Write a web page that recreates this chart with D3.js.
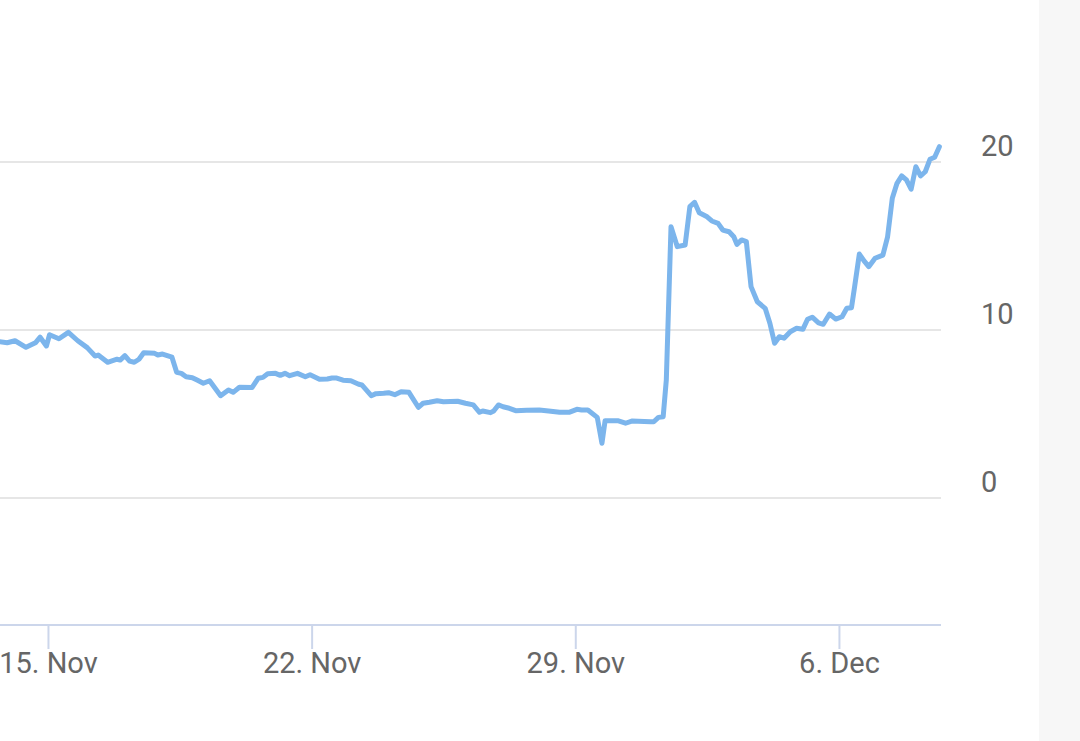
<!DOCTYPE html>
<html>
<head>
<meta charset="utf-8">
<script src="https://cdn.jsdelivr.net/npm/d3@7"></script>
<style>
  html, body { margin: 0; padding: 0; background: #fff; }
  svg { display: block; }
</style>
</head>
<body>
<svg id="chart" width="1080" height="741"></svg>
<script>
// sampled readings, local time
var times = [
  '2021-11-13 17:00', '2021-11-13 22:00', '2021-11-14 03:00', '2021-11-14 10:00', '2021-11-14 16:00',
  '2021-11-14 19:00', '2021-11-14 23:00', '2021-11-15 01:00', '2021-11-15 07:00', '2021-11-15 13:00',
  '2021-11-15 19:00', '2021-11-16 01:00', '2021-11-16 06:00', '2021-11-16 08:00', '2021-11-16 14:00',
  '2021-11-16 20:00', '2021-11-16 22:00', '2021-11-17 01:00', '2021-11-17 04:00', '2021-11-17 07:00',
  '2021-11-17 10:00', '2021-11-17 13:00', '2021-11-17 20:00', '2021-11-17 22:00', '2021-11-18 01:00',
  '2021-11-18 07:00', '2021-11-18 10:00', '2021-11-18 13:00', '2021-11-18 16:00', '2021-11-18 20:00',
  '2021-11-18 23:00', '2021-11-19 03:00', '2021-11-19 07:00', '2021-11-19 14:00', '2021-11-19 19:00',
  '2021-11-19 22:00', '2021-11-20 02:00', '2021-11-20 10:00', '2021-11-20 14:00', '2021-11-20 17:00',
  '2021-11-20 20:00', '2021-11-21 01:00', '2021-11-21 04:00', '2021-11-21 07:00', '2021-11-21 10:00',
  '2021-11-21 15:00', '2021-11-21 20:00', '2021-11-21 23:00', '2021-11-22 05:00', '2021-11-22 10:00',
  '2021-11-22 13:00', '2021-11-22 16:00', '2021-11-22 20:00', '2021-11-23 01:00', '2021-11-23 06:00',
  '2021-11-23 08:00', '2021-11-23 14:00', '2021-11-23 17:00', '2021-11-23 22:00', '2021-11-24 01:00',
  '2021-11-24 05:00', '2021-11-24 09:00', '2021-11-24 14:00', '2021-11-24 20:00', '2021-11-24 23:00',
  '2021-11-25 03:00', '2021-11-25 08:00', '2021-11-25 12:00', '2021-11-25 21:00', '2021-11-26 02:00',
  '2021-11-26 07:00', '2021-11-26 11:00', '2021-11-26 13:00', '2021-11-26 18:00', '2021-11-26 20:00',
  '2021-11-26 23:00', '2021-11-27 02:00', '2021-11-27 06:00', '2021-11-27 10:00', '2021-11-27 17:00',
  '2021-11-28 01:00', '2021-11-28 07:00', '2021-11-28 14:00', '2021-11-28 20:00', '2021-11-29 01:00',
  '2021-11-29 04:00', '2021-11-29 08:00', '2021-11-29 14:00', '2021-11-29 17:00', '2021-11-29 19:00',
  '2021-11-30 03:00', '2021-11-30 08:00', '2021-11-30 12:00', '2021-12-01 00:00', '2021-12-01 02:00',
  '2021-12-01 05:00', '2021-12-01 08:00', '2021-12-01 10:00', '2021-12-01 13:00', '2021-12-01 17:00',
  '2021-12-01 22:00', '2021-12-02 01:00', '2021-12-02 04:00', '2021-12-02 07:00', '2021-12-02 12:00',
  '2021-12-02 15:00', '2021-12-02 19:00', '2021-12-02 22:00', '2021-12-03 02:00', '2021-12-03 05:00',
  '2021-12-03 07:00', '2021-12-03 10:00', '2021-12-03 13:00', '2021-12-03 16:00', '2021-12-03 20:00',
  '2021-12-04 01:00', '2021-12-04 04:00', '2021-12-04 07:00', '2021-12-04 10:00', '2021-12-04 13:00',
  '2021-12-04 17:00', '2021-12-04 21:00', '2021-12-05 01:00', '2021-12-05 04:00', '2021-12-05 07:00',
  '2021-12-05 11:00', '2021-12-05 14:00', '2021-12-05 18:00', '2021-12-05 22:00', '2021-12-06 02:00',
  '2021-12-06 05:00', '2021-12-06 08:00', '2021-12-06 10:00', '2021-12-06 13:00', '2021-12-06 16:00',
  '2021-12-06 19:00', '2021-12-06 23:00', '2021-12-07 04:00', '2021-12-07 07:00', '2021-12-07 10:00',
  '2021-12-07 13:00', '2021-12-07 16:00', '2021-12-07 19:00', '2021-12-07 22:00', '2021-12-08 01:00',
  '2021-12-08 04:00', '2021-12-08 07:00', '2021-12-08 10:00', '2021-12-08 13:00', '2021-12-08 16:00'
];

var values = [
  9.30, 9.24, 9.36, 8.97, 9.24,
  9.57, 9.05, 9.72, 9.48, 9.86,
  9.36, 8.95, 8.45, 8.51, 8.08,
  8.26, 8.21, 8.47, 8.15, 8.08,
  8.26, 8.65, 8.61, 8.51, 8.57,
  8.38, 7.48, 7.42, 7.22, 7.16,
  7.02, 6.83, 6.98, 6.09, 6.43,
  6.29, 6.59, 6.57, 7.13, 7.18,
  7.40, 7.42, 7.30, 7.42, 7.28,
  7.42, 7.22, 7.34, 7.07, 7.08,
  7.14, 7.14, 7.01, 6.98, 6.77,
  6.73, 6.09, 6.21, 6.23, 6.27,
  6.15, 6.33, 6.29, 5.40, 5.64,
  5.70, 5.79, 5.73, 5.76, 5.64,
  5.54, 5.10, 5.18, 5.08, 5.18,
  5.54, 5.43, 5.34, 5.20, 5.22,
  5.24, 5.18, 5.10, 5.10, 5.28,
  5.24, 5.24, 4.80, 3.26, 4.60,
  4.60, 4.45, 4.58, 4.54, 4.54,
  4.80, 4.84, 7.02, 16.15, 14.96,
  15.06, 17.34, 17.60, 16.98, 16.74,
  16.49, 16.35, 15.95, 15.85, 15.55,
  15.10, 15.36, 15.26, 12.58, 11.68,
  11.29, 10.40, 9.21, 9.60, 9.51,
  9.90, 10.10, 10.04, 10.64, 10.76,
  10.43, 10.34, 10.95, 10.65, 10.79,
  11.29, 11.33, 12.58, 14.52, 14.11,
  13.77, 14.27, 14.46, 15.55, 17.84,
  18.73, 19.17, 18.93, 18.38, 19.72,
  19.17, 19.42, 20.16, 20.28, 20.91
];

var yTicks = [0, 10, 20];
var viewStart = '2021-11-13 17:26',
    viewEnd = '2021-12-08 17:02';

var parse = d3.timeParse('%Y-%m-%d %H:%M');
var data = times.map(function(t, i) { return { t: parse(t), v: values[i] }; });

var plotRight = 941,
    axisY = 625;

var svg = d3.select('#chart');

// grey strip at the right edge
svg.append('rect')
    .attr('x', 1039).attr('y', 0)
    .attr('width', 41).attr('height', 741)
    .attr('fill', '#f7f7f7');

var x = d3.scaleTime()
    .domain([parse(viewStart), parse(viewEnd)])
    .range([0, plotRight]);

var y = d3.scaleLinear()
    .domain([0, 20])
    .range([498, 162]);

// horizontal grid
svg.append('g')
    .selectAll('line')
    .data(yTicks)
    .enter().append('line')
    .attr('x1', 0).attr('x2', plotRight)
    .attr('y1', function(d) { return y(d); })
    .attr('y2', function(d) { return y(d); })
    .attr('stroke', '#e6e6e6')
    .attr('stroke-width', 2);

// y labels, right side, sitting just above their grid line
svg.append('g')
    .selectAll('text')
    .data(yTicks)
    .enter().append('text')
    .attr('x', 981)
    .attr('y', function(d) { return y(d) - 6; })
    .attr('font-family', 'Roboto, sans-serif')
    .attr('font-size', 29)
    .attr('fill', '#666666')
    .text(function(d) { return d; });

// x axis
var xAxis = d3.axisBottom(x)
    .ticks(d3.timeMonday.every(1))
    .tickFormat(d3.timeFormat('%-d. %b'))
    .tickSize(24)
    .tickPadding(3);

var gx = svg.append('g')
    .attr('transform', 'translate(0,' + axisY + ')')
    .call(xAxis);

gx.select('.domain').remove();
gx.selectAll('.tick line')
    .attr('stroke', '#ccd6eb')
    .attr('stroke-width', 2);
gx.selectAll('.tick text')
    .attr('font-family', 'Roboto, sans-serif')
    .attr('font-size', 29)
    .attr('fill', '#666666');

gx.append('line')
    .attr('x1', 0).attr('x2', plotRight)
    .attr('y1', 0).attr('y2', 0)
    .attr('stroke', '#ccd6eb')
    .attr('stroke-width', 2);

// series
var line = d3.line()
    .x(function(d) { return x(d.t); })
    .y(function(d) { return y(d.v); });

svg.append('path')
    .datum(data)
    .attr('d', line)
    .attr('fill', 'none')
    .attr('stroke', '#7cb5ec')
    .attr('stroke-width', 5)
    .attr('stroke-linejoin', 'round')
    .attr('stroke-linecap', 'round');
</script>
</body>
</html>
